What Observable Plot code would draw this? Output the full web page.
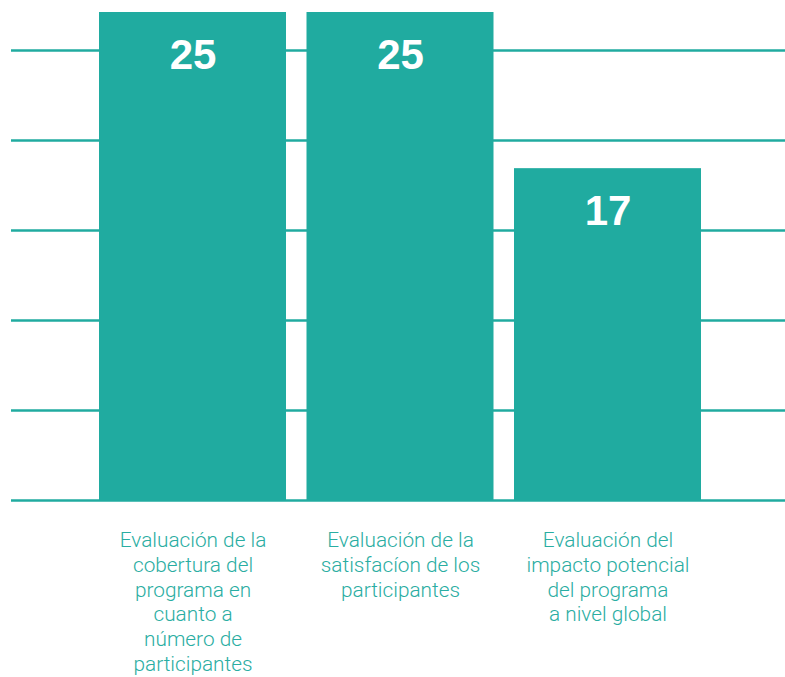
<!DOCTYPE html>
<html>
<head>
<meta charset="utf-8">
<script src="https://cdn.jsdelivr.net/npm/d3@7"></script>
<script src="https://cdn.jsdelivr.net/npm/@observablehq/plot@0.6"></script>
<style>
  html, body { margin: 0; padding: 0; background: #fff; }
  #chart svg { display: block; }
</style>
</head>
<body>
<div id="chart"></div>
<script>
const categories = ["cobertura", "satisfaccion", "impacto"];
const values = [25, 25, 17];
const labels = [
  "Evaluación de la\ncobertura del\nprograma en\ncuanto a\nnúmero de\nparticipantes",
  "Evaluación de la\nsatisfacíon de los\nparticipantes",
  "Evaluación del\nimpacto potencial\ndel programa\na nivel global"
];
const gridValues = [0, 4.61, 9.22, 13.83, 18.44, 23.05];

const data = categories.map((c, i) => ({cat: c, value: values[i], label: labels[i]}));

const teal = "#20aba0";

const chart = Plot.plot({
  width: 785,
  height: 677,
  marginLeft: 11,
  marginRight: 0,
  marginTop: 0,
  marginBottom: 0,
  style: {background: "#fff"},
  x: {type: "band", domain: categories, range: [99, 701], paddingInner: 0.0988, paddingOuter: 0, round: false, axis: null},
  y: {domain: [0, 25], range: [500, 12], axis: null},
  marks: [
    Plot.ruleY(gridValues, {stroke: teal, strokeWidth: 2.5}),
    Plot.barY(data, {x: "cat", y: "value", fill: teal}),
    Plot.text(data, {
      x: "cat", y: "value", text: d => String(d.value),
      dy: 43, fill: "#fff", fontSize: 42, fontWeight: "bold",
      fontFamily: "Liberation Sans, Arial, sans-serif"
    }),
    Plot.text(data, {
      x: "cat", y: () => 0, text: "label",
      dy: 29, lineAnchor: "top", lineHeight: 1.19,
      fill: "#2aada2", fontSize: 20.8, fontWeight: 300,
      fontFamily: "Roboto, Liberation Sans, sans-serif"
    })
  ]
});
document.getElementById("chart").appendChild(chart);
</script>
</body>
</html>
